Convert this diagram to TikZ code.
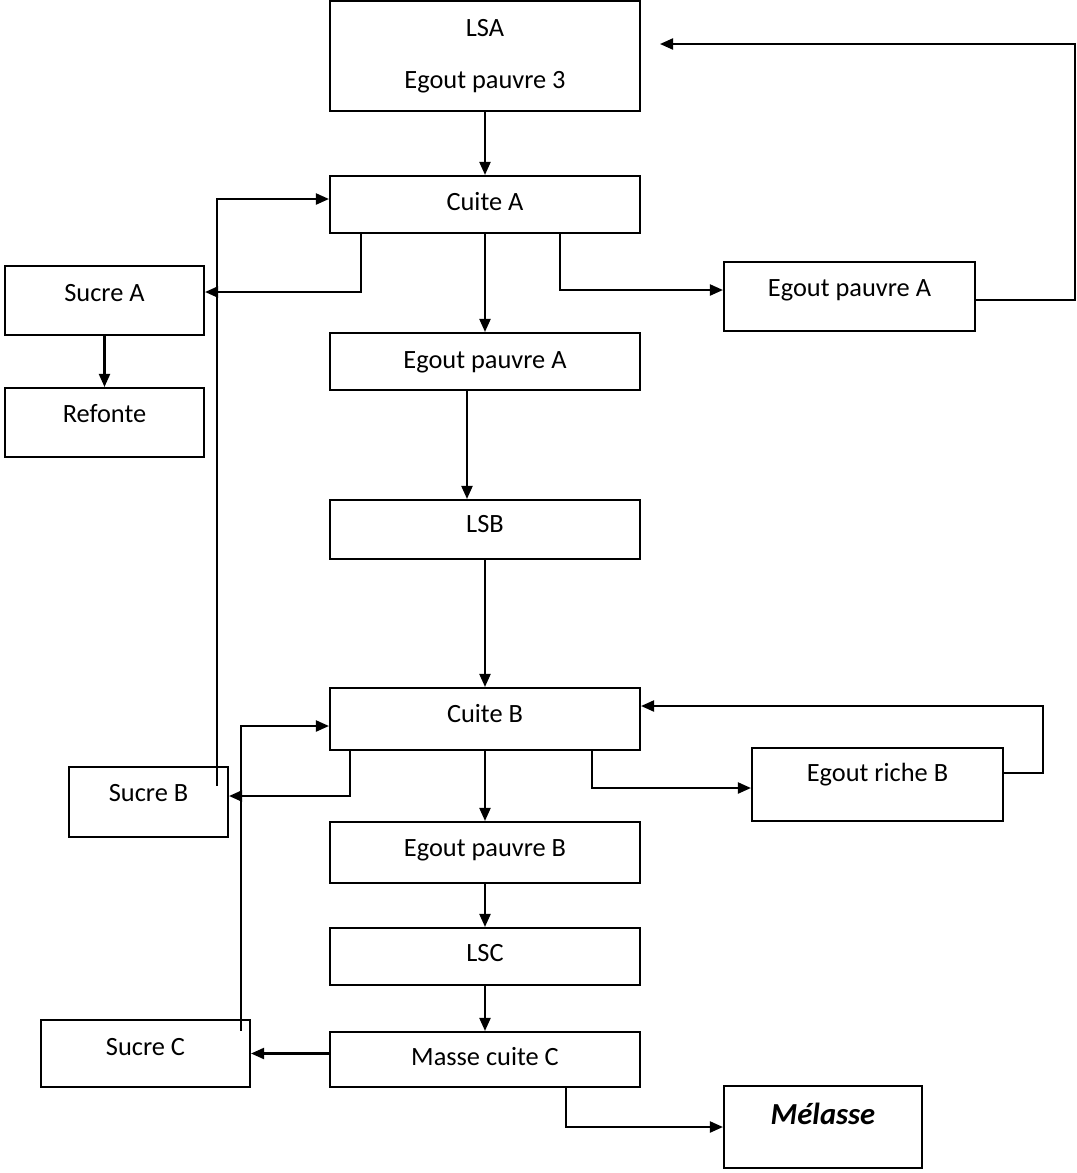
\documentclass[tikz,border=0pt]{standalone}
\usepackage{fontspec}
\setmainfont{Carlito}
\usetikzlibrary{arrows.meta}
\begin{document}
\begin{tikzpicture}[x=0.1mm, y=-0.1mm, font=\fontsize{7.5}{9}\selectfont,
    frame/.style={draw, line width=0.6pt, inner sep=0pt},
    box/.style={frame, text height=1.7mm, text depth=#1},
    box/.default=1mm,
    wide/.style={minimum width=31mm},
    >={Triangle[length=1.3mm, width=1.1mm]},
    line/.style={line width=0.6pt}]
    \useasboundingbox (0,0) rectangle (1077,1173);
    % colonne centrale
    \node[frame, wide, minimum height=11mm, align=center] (lsa) at (485,56) {LSA\\[5.7pt]Egout pauvre 3};
    \node[box=0.5mm, wide, minimum height=5.7mm] (cuitea) at (485,204.5) {Cuite A};
    \node[box=0.3mm, wide, minimum height=5.7mm] (epa) at (485,361.5) {Egout pauvre A};
    \node[box=1.1mm, wide, minimum height=5.9mm] (lsb) at (485,529.5) {LSB};
    \node[box=1.0mm, wide, minimum height=6.2mm] (cuiteb) at (485,719) {Cuite B};
    \node[box=0.9mm, wide, minimum height=6.1mm] (epb) at (485,852.5) {Egout pauvre B};
    \node[box=0.7mm, wide, minimum height=5.7mm] (lsc) at (485,956.5) {LSC};
    \node[box=0.5mm, wide, minimum height=5.5mm] (mcc) at (485,1059.5) {Masse cuite C};
    % a gauche
    \node[box=1.5mm, minimum width=19.9mm, minimum height=6.9mm] (sucrea) at (104.5,300.5) {Sucre A};
    \node[box=1.7mm, minimum width=19.9mm, minimum height=6.9mm] (refonte) at (104.5,422.5) {Refonte};
    \node[box=1.8mm, minimum width=15.9mm, minimum height=7mm] (sucreb) at (148.5,802) {Sucre B};
    \node[box=1.3mm, minimum width=20.9mm, minimum height=6.7mm] (sucrec) at (145.5,1053.5) {Sucre C};
    % a droite
    \node[box=1.7mm, minimum width=25.1mm, minimum height=6.9mm] (epa2) at (849.5,296.5) {Egout pauvre A};
    \node[box=2.3mm, minimum width=25.1mm, minimum height=7.3mm] (egrb) at (877.5,784.5) {Egout riche B};
    \node[box=2.3mm, minimum width=19.8mm, minimum height=8.2mm, font=\fontsize{8.7}{10}\selectfont\bfseries\itshape] (melasse) at (823,1127) {Mélasse};
    \coordinate (retA) at (660,44);
    % fleches
    \draw[line, ->] (lsa.south) -- (cuitea.north);
    \draw[line, ->] (cuitea.south) -- (epa.north);
    \draw[line, ->] ([xshift=-12.4mm]cuitea.south) |- ([yshift=0.85mm]sucrea.east);
    \draw[line, ->] ([xshift=7.5mm]cuitea.south) |- ([yshift=0.65mm]epa2.west);
    \draw[line, ->] ([yshift=-0.35mm]epa2.east) -- ++(99,0) |- (retA);
    \draw[line, ->] (sucrea.south) -- (refonte.north);
    \draw[line, ->] ([xshift=-1.8mm]epa.south) -- ([xshift=-1.8mm]lsb.north);
    \draw[line, ->] (lsb.south) -- (cuiteb.north);
    \draw[line, ->] ([xshift=-1.2mm, yshift=-2mm]sucreb.north east) |- ([yshift=0.55mm]cuitea.west);
    \draw[line, ->] ([xshift=-13.5mm]cuiteb.south) |- ([yshift=0.6mm]sucreb.east);
    \draw[line, ->] ([xshift=10.7mm]cuiteb.south) |- ([yshift=-0.35mm]egrb.west);
    \draw[line, ->] ([yshift=1.15mm]egrb.east) -- ++(39,0) |- ([yshift=1.3mm]cuiteb.east);
    \draw[line, ->] (cuiteb.south) -- (epb.north);
    \draw[line, ->] (epb.south) -- (lsc.north);
    \draw[line, ->] (lsc.south) -- (mcc.north);
    \draw[line, ->] (mcc.west |- sucrec.east) -- (sucrec.east);
    \draw[line, ->] ([xshift=-1mm, yshift=-1.2mm]sucrec.north east) |- ([yshift=-0.7mm]cuiteb.west);
    \draw[line, ->] ([xshift=8.1mm]mcc.south) |- (melasse.west);
\end{tikzpicture}
\end{document}
